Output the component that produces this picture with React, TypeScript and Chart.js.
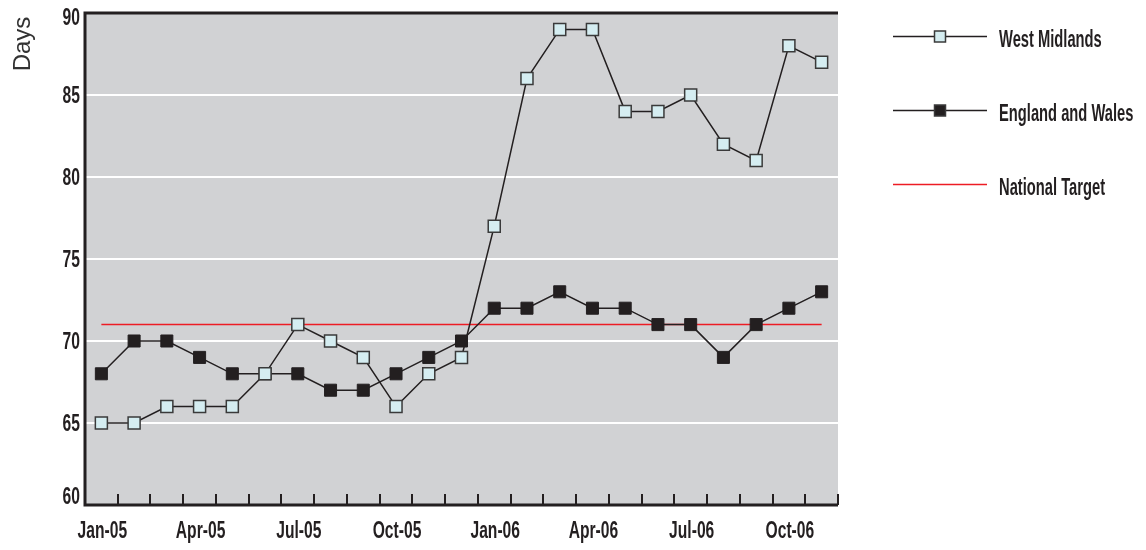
import React, { useEffect, useRef } from "react";
import { Chart, registerables } from "chart.js";

Chart.register(...registerables);

// Monthly categories, Jan 2005 to Nov 2006
const months = [
  "Jan-05", "Feb-05", "Mar-05", "Apr-05", "May-05", "Jun-05", "Jul-05", "Aug-05",
  "Sep-05", "Oct-05", "Nov-05", "Dec-05", "Jan-06", "Feb-06", "Mar-06", "Apr-06",
  "May-06", "Jun-06", "Jul-06", "Aug-06", "Sep-06", "Oct-06", "Nov-06",
];

// Months that get a label on the x axis
const labelledMonths = ["Jan-05", "Apr-05", "Jul-05", "Oct-05", "Jan-06", "Apr-06", "Jul-06", "Oct-06"];

const westMidlands = [65, 65, 66, 66, 66, 68, 71, 70, 69, 66, 68, 69, 77, 86, 89, 89, 84, 84, 85, 82, 81, 88, 87];
const englandWales = [68, 70, 70, 69, 68, 68, 68, 67, 67, 68, 69, 70, 72, 72, 73, 72, 72, 71, 71, 69, 71, 72, 73];
const nationalTarget = [71, 71, 71, 71, 71, 71, 71, 71, 71, 71, 71, 71, 71, 71, 71, 71, 71, 71, 71, 71, 71, 71, 71];

const yMin = 60;
const yMax = 90;
const yStep = 5;

const INK = "#231f20";
const PLOT_BG = "#d1d2d4";
const WM_FILL = "#d5edf1";
const MARKER_EDGE = "#3a3a3a";
const TARGET_RED = "#ed1c24";
const LABEL_FONT = "bold 23px 'Liberation Sans', Arial, sans-serif";
const AXIS_SQUEEZE = 0.68; // horizontal squeeze giving a condensed face
const LEGEND_SQUEEZE = 0.64;

const legendItems = [
  { label: "West Midlands", marker: WM_FILL as string | null, line: INK },
  { label: "England and Wales", marker: INK as string | null, line: INK },
  { label: "National Target", marker: null as string | null, line: TARGET_RED },
];

function condensedText(
  ctx: CanvasRenderingContext2D,
  text: string,
  x: number,
  y: number,
  align: CanvasTextAlign,
  squeeze: number,
) {
  ctx.save();
  ctx.translate(x, y);
  ctx.scale(squeeze, 1);
  ctx.font = LABEL_FONT;
  ctx.fillStyle = INK;
  ctx.textAlign = align;
  ctx.textBaseline = "alphabetic";
  ctx.fillText(text, 0, 0);
  ctx.restore();
}

// Grey plot panel, heavy frame, inward month ticks, labels, legend and axis caption
const framePlugin = {
  id: "frame",
  beforeDraw(chart: Chart) {
    const { ctx, chartArea } = chart;
    ctx.save();
    ctx.fillStyle = PLOT_BG;
    ctx.fillRect(chartArea.left, chartArea.top, chartArea.right - chartArea.left, chartArea.bottom - chartArea.top);
    ctx.restore();
  },
  afterDraw(chart: Chart) {
    const { ctx, chartArea } = chart;
    const { left, right, top, bottom } = chartArea;
    const xs = chart.scales.x;
    const ys = chart.scales.y;
    ctx.save();

    // frame: left, top and bottom edges
    ctx.strokeStyle = INK;
    ctx.lineWidth = 3;
    ctx.lineCap = "butt";
    ctx.beginPath();
    ctx.moveTo(right, top);
    ctx.lineTo(left - 1.5, top);
    ctx.moveTo(left, top);
    ctx.lineTo(left, bottom);
    ctx.moveTo(left - 1.5, bottom);
    ctx.lineTo(right, bottom);
    ctx.stroke();

    // month boundary ticks pointing up into the panel
    const step = xs.getPixelForValue(1) - xs.getPixelForValue(0);
    ctx.lineWidth = 2;
    ctx.beginPath();
    for (let i = 0; i < months.length; i++) {
      const x = Math.round(xs.getPixelForValue(i) + step / 2);
      ctx.moveTo(x, bottom);
      ctx.lineTo(x, bottom - 11);
    }
    ctx.stroke();
    ctx.restore();

    // y tick labels (baseline sits about 8px below the value line)
    ys.ticks.forEach((t: any) => {
      const py = ys.getPixelForValue(t.value);
      const y = Math.min(Math.max(py, top + 4), bottom - 9);
      condensedText(ctx, String(t.value), left - 5, y + 8, "right", AXIS_SQUEEZE);
    });

    // x tick labels
    labelledMonths.forEach((m) => {
      const x = xs.getPixelForValue(months.indexOf(m));
      condensedText(ctx, m, x + 1, bottom + 33, "center", AXIS_SQUEEZE);
    });

    // axis caption
    ctx.save();
    ctx.fillStyle = "#333333";
    ctx.font = "24px 'Liberation Sans', Arial, sans-serif";
    ctx.textAlign = "center";
    ctx.textBaseline = "alphabetic";
    ctx.translate(30, 44);
    ctx.rotate(-Math.PI / 2);
    ctx.fillText("Days", 0, 0);
    ctx.restore();

    // legend
    ctx.save();
    const lx0 = 893;
    const lx1 = 987;
    const rows = [36, 110, 184];
    legendItems.forEach((item, i) => {
      const y = rows[i] + 0.5;
      ctx.strokeStyle = item.line;
      ctx.lineWidth = 1.5;
      ctx.beginPath();
      ctx.moveTo(lx0, y);
      ctx.lineTo(lx1, y);
      ctx.stroke();
      if (item.marker) {
        const s = 11;
        const cx = (lx0 + lx1) / 2;
        ctx.fillStyle = item.marker;
        ctx.fillRect(cx - s / 2, y - s / 2, s, s);
        ctx.strokeStyle = MARKER_EDGE;
        ctx.lineWidth = 1.5;
        ctx.strokeRect(cx - s / 2, y - s / 2, s, s);
      }
      condensedText(ctx, item.label, 999, y + 10.5, "left", LEGEND_SQUEEZE);
    });
    ctx.restore();
  },
};

export default function App() {
  const canvasRef = useRef<HTMLCanvasElement | null>(null);

  useEffect(() => {
    const canvas = canvasRef.current;
    if (!canvas) return;
    const chart = new Chart(canvas, {
      type: "line",
      data: {
        labels: months,
        datasets: [
          {
            label: "West Midlands",
            data: westMidlands,
            borderColor: INK,
            borderWidth: 1.5,
            pointStyle: "rect",
            pointRadius: 8.5,
            pointBackgroundColor: WM_FILL,
            pointBorderColor: MARKER_EDGE,
            pointBorderWidth: 1.5,
            tension: 0,
            order: 0,
          },
          {
            label: "England and Wales",
            data: englandWales,
            borderColor: INK,
            borderWidth: 1.5,
            pointStyle: "rect",
            pointRadius: 8.5,
            pointBackgroundColor: INK,
            pointBorderColor: INK,
            pointBorderWidth: 1,
            tension: 0,
            order: 1,
          },
          {
            label: "National Target",
            data: nationalTarget,
            borderColor: TARGET_RED,
            borderWidth: 1.5,
            pointRadius: 0,
            tension: 0,
            order: 2,
          },
        ],
      },
      options: {
        responsive: false,
        animation: false,
        layout: { padding: { left: 0, top: 13, right: 308, bottom: 0 } },
        plugins: {
          legend: { display: false },
          tooltip: { enabled: false },
        },
        scales: {
          x: {
            type: "category",
            offset: true,
            grid: { display: false, drawTicks: false },
            border: { display: false },
            ticks: { display: false, autoSkip: false },
            afterFit: (scale: any) => {
              scale.height = 45;
            },
          },
          y: {
            min: yMin,
            max: yMax,
            grid: {
              color: (c: any) => (c.tick && (c.tick.value === yMin || c.tick.value === yMax) ? "rgba(0,0,0,0)" : "#ffffff"),
              lineWidth: 2,
              drawTicks: false,
            },
            border: { display: false },
            ticks: { display: false, stepSize: yStep },
            afterFit: (scale: any) => {
              scale.width = 85;
            },
          },
        },
      },
      plugins: [framePlugin],
    });
    return () => chart.destroy();
  }, []);

  return (
    <div style={{ position: "absolute", left: 0, top: 0, width: 1146, height: 550, background: "#ffffff" }}>
      <canvas ref={canvasRef} width={1146} height={550} style={{ display: "block" }} />
    </div>
  );
}
